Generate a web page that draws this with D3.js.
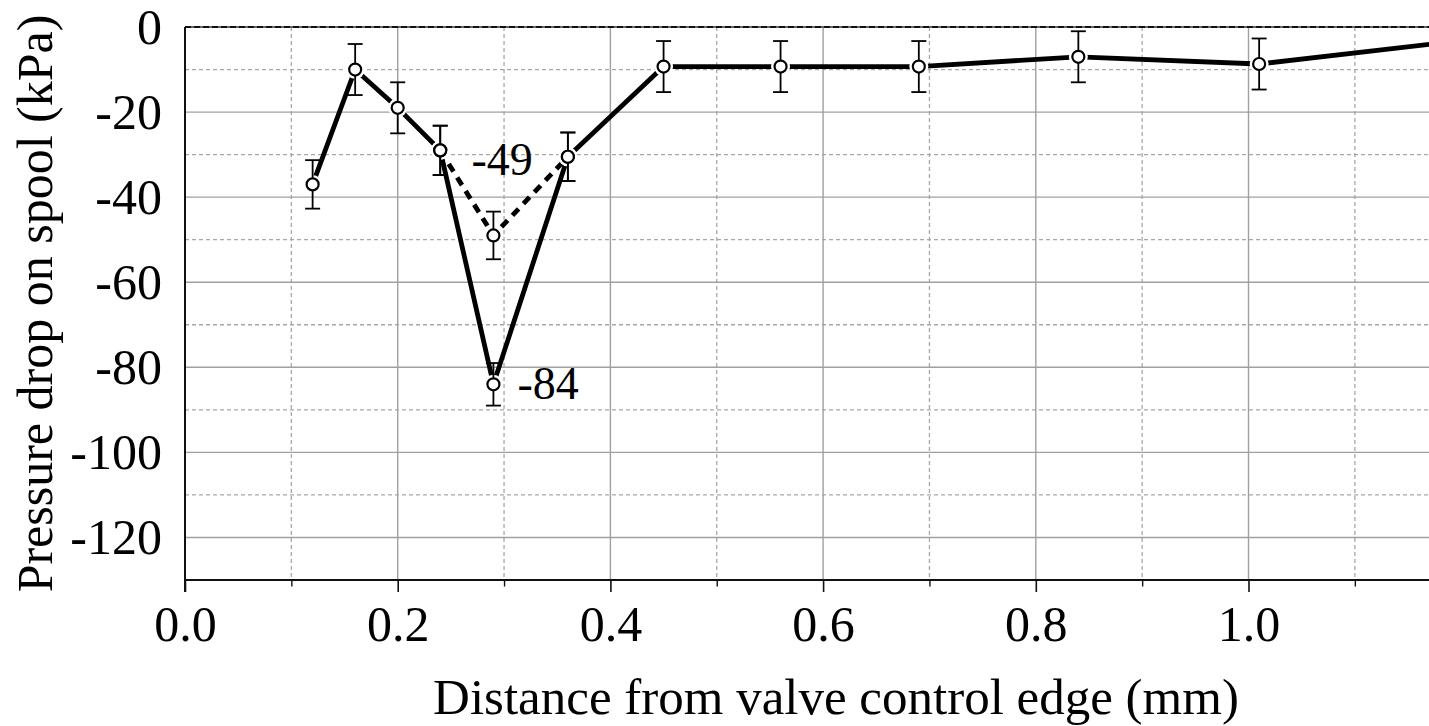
<!DOCTYPE html>
<html>
<head>
<meta charset="utf-8">
<script src="https://cdn.jsdelivr.net/npm/d3@7"></script>
<style>
  html, body { margin: 0; padding: 0; background: #fff; }
  svg { display: block; font-family: "Liberation Serif", "Times New Roman", serif; }
</style>
</head>
<body>
<svg id="chart" width="1429" height="726"></svg>
<script>
// Measured pressure drop along the spool (kPa) vs. distance from the control edge (mm)
const distance   = [0.12, 0.16, 0.20, 0.24, 0.29, 0.36, 0.45, 0.56, 0.69, 0.84, 1.01, 1.20];
const pressure   = [-37, -10, -19, -29, -84, -30.5, -9.3, -9.3, -9.3, -7, -8.7, -3.2];
const errorBar   = [5.7, 6, 6, 5.8, 5, 5.7, 6, 6, 6, 6, 6, 6];

// Alternative run through the dip region (dashed)
const altDistance = [0.24, 0.29, 0.36];
const altPressure = [-29, -49, -30.5];
const altError    = [5.8, 5.6, 5.7];

// Values called out next to the dip points
const callouts = [
  { x: 0.29, y: -49, text: "-49", dx: -22, dy: -60 },
  { x: 0.29, y: -84, text: "-84", dx: 24, dy: 15 }
];

const xMajorTicks = [0.0, 0.2, 0.4, 0.6, 0.8, 1.0];
const xMinorTicks = [0.1, 0.3, 0.5, 0.7, 0.9, 1.1];
const yMajorTicks = [0, -20, -40, -60, -80, -100, -120];
const yMinorTicks = [-10, -30, -50, -70, -90, -110];

const xTitle = "Distance from valve control edge (mm)";
const yTitle = "Pressure drop on spool (kPa)";

const svg = d3.select("#chart");
const M = { left: 185, top: 27, bottom: 580, right: 1429 };

const x = d3.scaleLinear().domain([0, 1.17]).range([M.left, M.left + 1.17 * 1063.5]);
const y = d3.scaleLinear().domain([-130, 0]).range([M.bottom, M.top]);

const grid = svg.append("g");
// minor grid (dashed)
grid.selectAll(".vmin").data(xMinorTicks).join("line")
  .attr("x1", d => x(d)).attr("x2", d => x(d)).attr("y1", M.top).attr("y2", M.bottom)
  .attr("stroke", "#a8a8a8").attr("stroke-width", 1.3).attr("stroke-dasharray", "4,3");
grid.selectAll(".hmin").data(yMinorTicks).join("line")
  .attr("x1", M.left).attr("x2", M.right).attr("y1", d => y(d)).attr("y2", d => y(d))
  .attr("stroke", "#a8a8a8").attr("stroke-width", 1.3).attr("stroke-dasharray", "4,3");
// major grid (solid)
grid.selectAll(".vmaj").data(xMajorTicks.filter(d => d > 0)).join("line")
  .attr("x1", d => x(d)).attr("x2", d => x(d)).attr("y1", M.top).attr("y2", M.bottom)
  .attr("stroke", "#a0a0a0").attr("stroke-width", 1.4);
grid.selectAll(".hmaj").data(yMajorTicks.filter(d => d < 0)).join("line")
  .attr("x1", M.left).attr("x2", M.right).attr("y1", d => y(d)).attr("y2", d => y(d))
  .attr("stroke", "#a0a0a0").attr("stroke-width", 1.4);
// zero line
grid.append("line").attr("x1", M.left).attr("x2", M.right).attr("y1", y(0)).attr("y2", y(0))
  .attr("stroke", "#666").attr("stroke-width", 2);
grid.append("line").attr("x1", M.left).attr("x2", M.right).attr("y1", y(0)).attr("y2", y(0))
  .attr("stroke", "#111").attr("stroke-width", 2).attr("stroke-dasharray", "6,3");

// bottom axis
const xAxis = svg.append("g").attr("transform", `translate(0,${M.bottom})`)
  .call(d3.axisBottom(x).tickValues(xMajorTicks).tickSize(12).tickSizeOuter(0).tickFormat(d3.format(".1f")));
xAxis.select(".domain").attr("d", `M${M.left},0H${M.right}`).attr("stroke", "#111").attr("stroke-width", 2);
xAxis.selectAll(".tick line").attr("stroke", "#111").attr("stroke-width", 1.6);
xAxis.selectAll(".tick text").attr("y", 61).attr("dy", null)
  .attr("font-size", 50).attr("font-family", "Liberation Serif, Times New Roman, serif").attr("fill", "#000");
const xMinor = svg.append("g").attr("transform", `translate(0,${M.bottom})`)
  .call(d3.axisBottom(x).tickValues(xMinorTicks).tickSize(6.5).tickSizeOuter(0).tickFormat(""));
xMinor.select(".domain").remove();
xMinor.selectAll(".tick line").attr("stroke", "#111").attr("stroke-width", 1.4);

// left axis (plain hyphen-minus labels)
const yAxis = svg.append("g").attr("transform", `translate(${M.left},0)`)
  .call(d3.axisLeft(y).tickValues(yMajorTicks).tickSize(0).tickSizeOuter(0).tickPadding(23)
    .tickFormat(d => String(d)));
yAxis.select(".domain").attr("d", `M0,${M.top}V${M.bottom + 12}`).attr("stroke", "#111").attr("stroke-width", 2);
yAxis.selectAll(".tick text").attr("dy", "0.32em")
  .attr("font-size", 50).attr("font-family", "Liberation Serif, Times New Roman, serif").attr("fill", "#000");

// axis titles
svg.append("text").attr("x", 836).attr("y", 714).attr("text-anchor", "middle")
  .attr("font-size", 51).text(xTitle);
svg.append("text").attr("transform", `translate(52,${(M.top + M.bottom) / 2}) rotate(-90)`)
  .attr("text-anchor", "middle").attr("font-size", 50).text(yTitle);

// series
const main = distance.map((d, i) => ({ x: d, y: pressure[i], e: errorBar[i] }));
const alt = altDistance.map((d, i) => ({ x: d, y: altPressure[i], e: altError[i] }));
const line = d3.line().x(d => x(d.x)).y(d => y(d.y));

svg.append("path").datum(alt).attr("d", line).attr("fill", "none")
  .attr("stroke", "#000").attr("stroke-width", 4.8).attr("stroke-dasharray", "9,7");
svg.append("path").datum(main).attr("d", line).attr("fill", "none")
  .attr("stroke", "#000").attr("stroke-width", 4.8).attr("stroke-linejoin", "round");

const pts = main.concat(alt);
// white halo around markers
svg.append("g").selectAll("circle").data(pts).join("circle")
  .attr("cx", d => x(d.x)).attr("cy", d => y(d.y)).attr("r", 9.5).attr("fill", "#fff");
// error bars
const eb = svg.append("g").attr("stroke", "#000").attr("stroke-width", 1.8);
eb.selectAll(".v").data(pts).join("line")
  .attr("x1", d => x(d.x)).attr("x2", d => x(d.x))
  .attr("y1", d => y(d.y + d.e)).attr("y2", d => y(d.y - d.e));
eb.selectAll(".t").data(pts).join("line")
  .attr("x1", d => x(d.x) - 7.5).attr("x2", d => x(d.x) + 7.5)
  .attr("y1", d => y(d.y + d.e)).attr("y2", d => y(d.y + d.e));
eb.selectAll(".b").data(pts).join("line")
  .attr("x1", d => x(d.x) - 7.5).attr("x2", d => x(d.x) + 7.5)
  .attr("y1", d => y(d.y - d.e)).attr("y2", d => y(d.y - d.e));
// markers
svg.append("g").selectAll("circle").data(pts).join("circle")
  .attr("cx", d => x(d.x)).attr("cy", d => y(d.y)).attr("r", 6)
  .attr("fill", "#fff").attr("stroke", "#000").attr("stroke-width", 2.2);

// value callouts
svg.append("g").selectAll("text").data(callouts).join("text")
  .attr("x", d => x(d.x) + d.dx).attr("y", d => y(d.y) + d.dy)
  .attr("font-size", 46).text(d => d.text);
</script>
</body>
</html>
